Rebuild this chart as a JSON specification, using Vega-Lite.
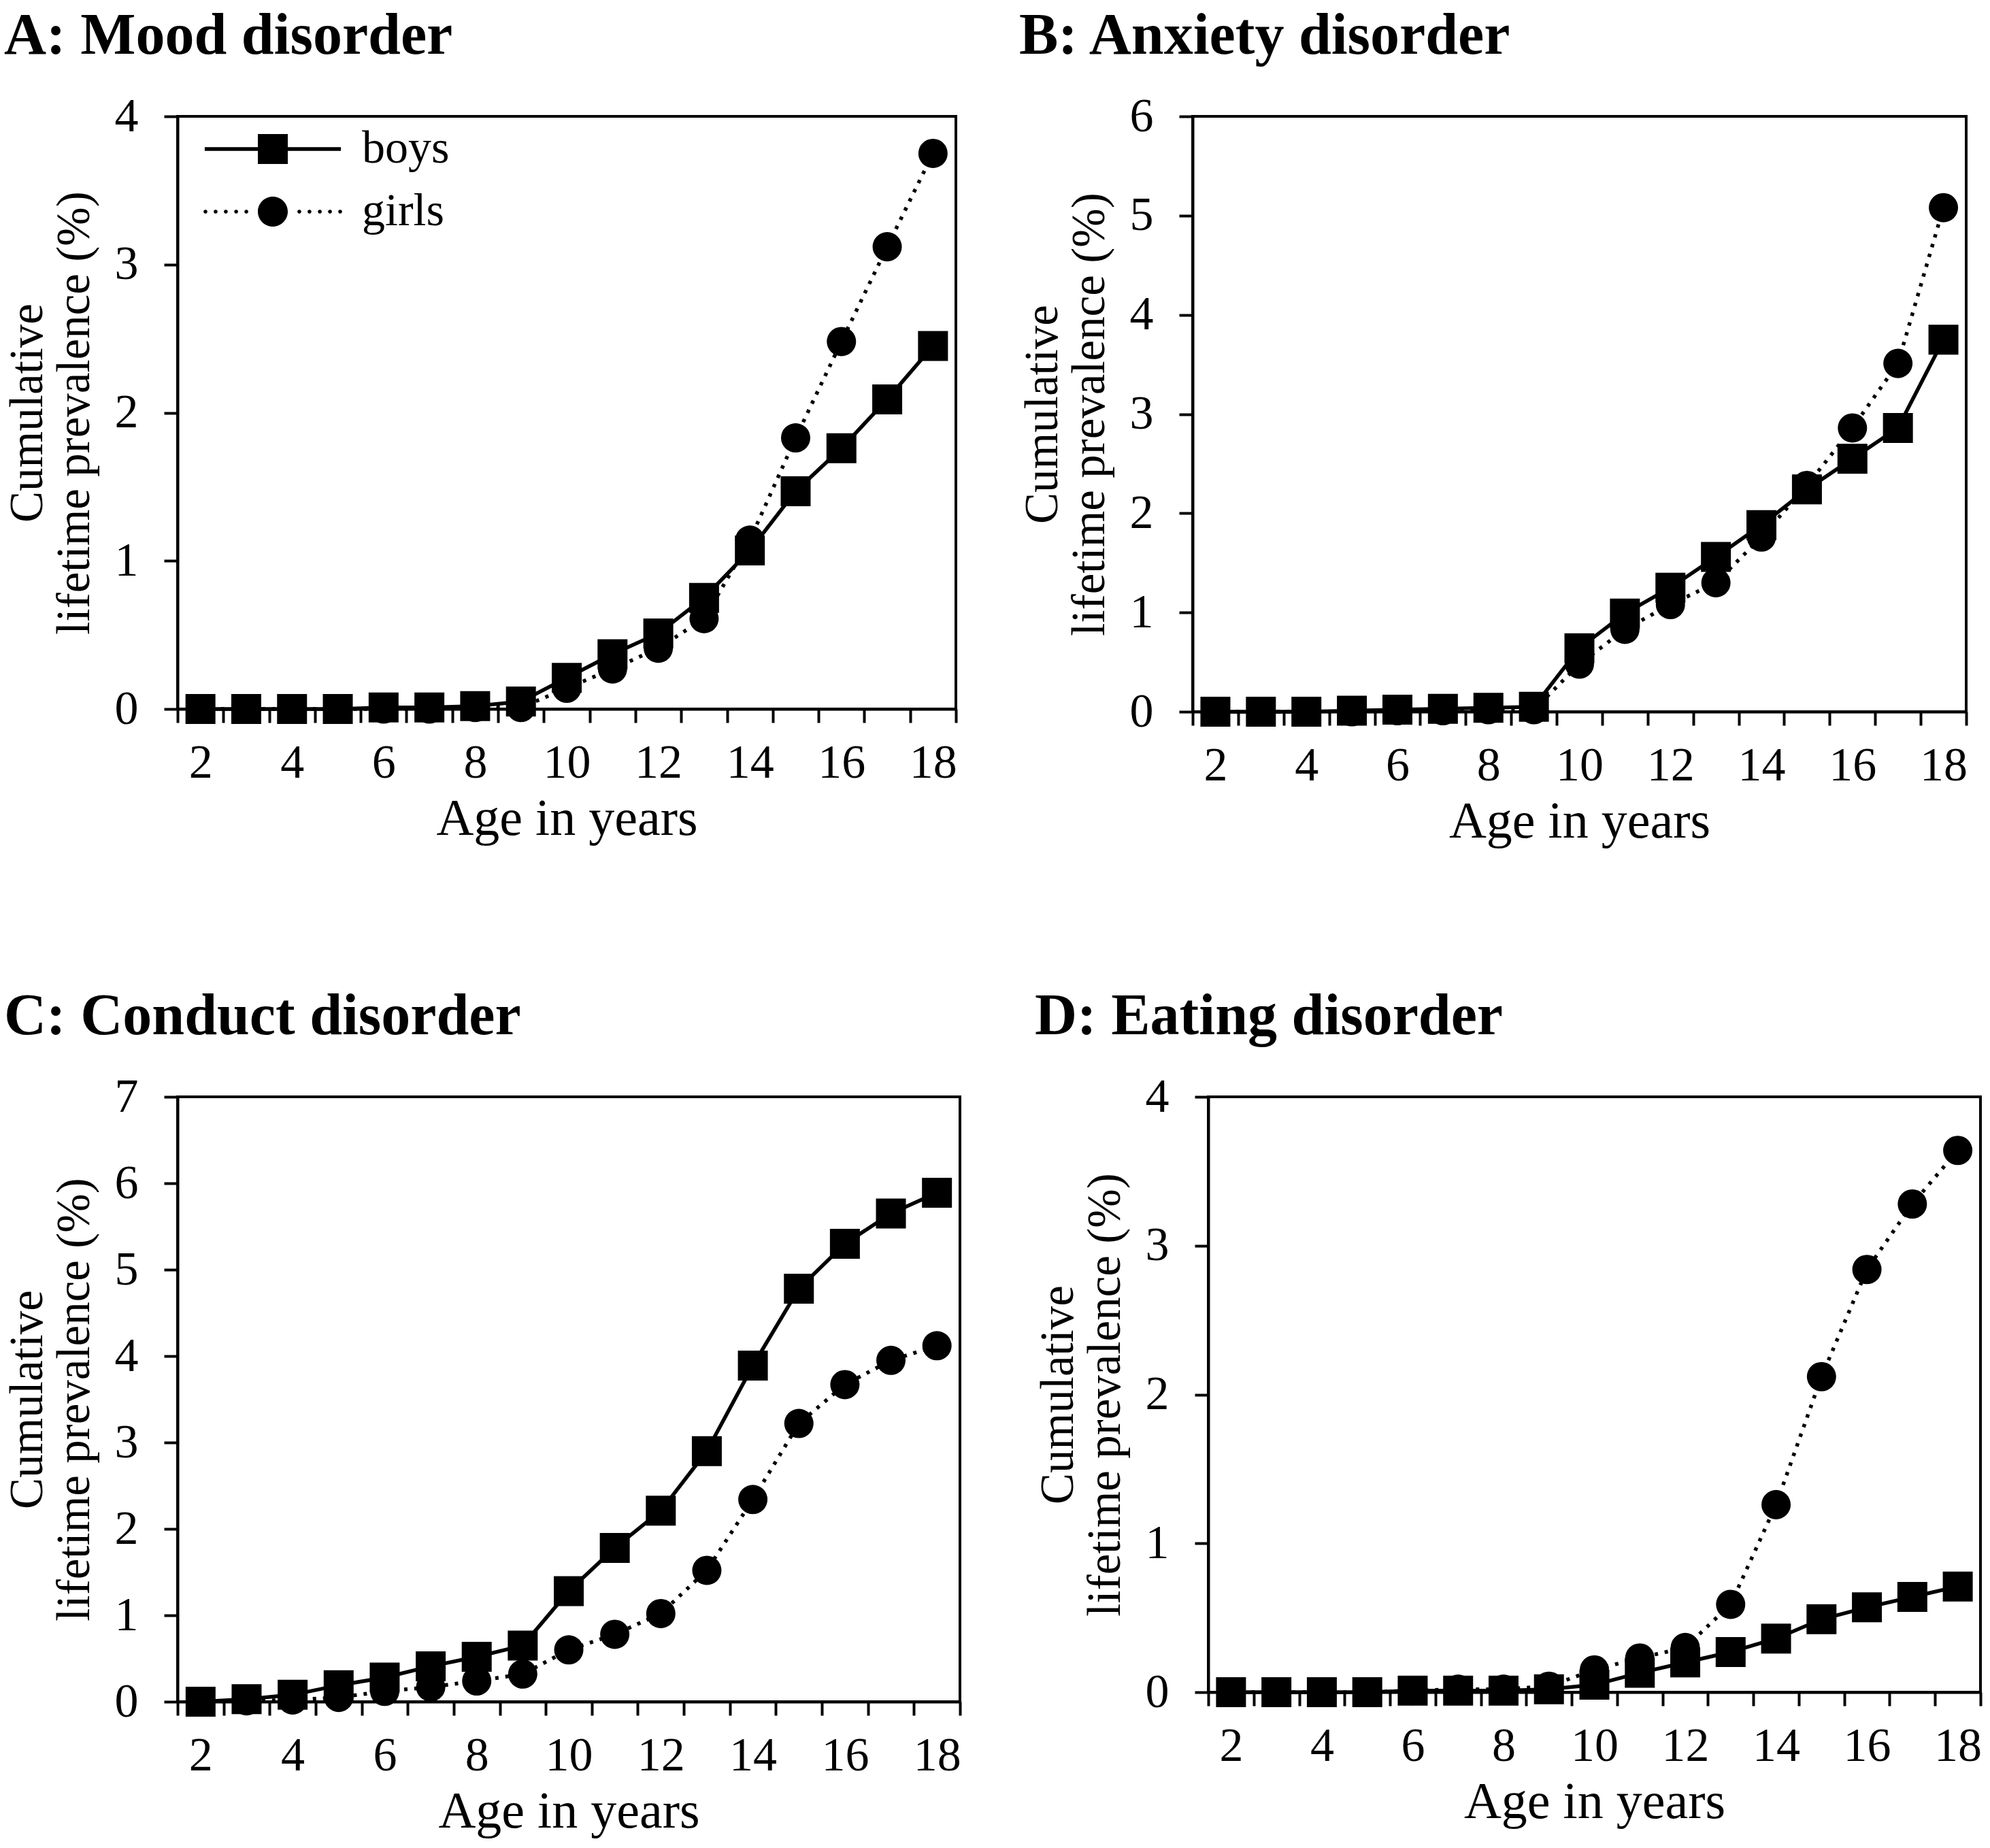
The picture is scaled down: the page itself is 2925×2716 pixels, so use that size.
{
  "$schema": "https://vega.github.io/schema/vega-lite/v6.json",
  "background": "white",
  "padding": {"top": 8, "left": 4, "right": 0, "bottom": 0},
  "data": {"values": [
    {"panel":"A","sex":"boys","age":2,"value":0},{"panel":"A","sex":"boys","age":3,"value":0},{"panel":"A","sex":"boys","age":4,"value":0},{"panel":"A","sex":"boys","age":5,"value":0},{"panel":"A","sex":"boys","age":6,"value":0.01},{"panel":"A","sex":"boys","age":7,"value":0.01},{"panel":"A","sex":"boys","age":8,"value":0.02},{"panel":"A","sex":"boys","age":9,"value":0.05},{"panel":"A","sex":"boys","age":10,"value":0.21},{"panel":"A","sex":"boys","age":11,"value":0.37},{"panel":"A","sex":"boys","age":12,"value":0.51},{"panel":"A","sex":"boys","age":13,"value":0.75},{"panel":"A","sex":"boys","age":14,"value":1.07},{"panel":"A","sex":"boys","age":15,"value":1.47},{"panel":"A","sex":"boys","age":16,"value":1.76},{"panel":"A","sex":"boys","age":17,"value":2.09},{"panel":"A","sex":"boys","age":18,"value":2.45},
    {"panel":"A","sex":"girls","age":2,"value":0},{"panel":"A","sex":"girls","age":3,"value":0},{"panel":"A","sex":"girls","age":4,"value":0},{"panel":"A","sex":"girls","age":5,"value":0},{"panel":"A","sex":"girls","age":6,"value":0},{"panel":"A","sex":"girls","age":7,"value":0},{"panel":"A","sex":"girls","age":8,"value":0.01},{"panel":"A","sex":"girls","age":9,"value":0.01},{"panel":"A","sex":"girls","age":10,"value":0.14},{"panel":"A","sex":"girls","age":11,"value":0.27},{"panel":"A","sex":"girls","age":12,"value":0.41},{"panel":"A","sex":"girls","age":13,"value":0.61},{"panel":"A","sex":"girls","age":14,"value":1.14},{"panel":"A","sex":"girls","age":15,"value":1.83},{"panel":"A","sex":"girls","age":16,"value":2.48},{"panel":"A","sex":"girls","age":17,"value":3.12},{"panel":"A","sex":"girls","age":18,"value":3.75},
    {"panel":"B","sex":"boys","age":2,"value":0},{"panel":"B","sex":"boys","age":3,"value":0},{"panel":"B","sex":"boys","age":4,"value":0},{"panel":"B","sex":"boys","age":5,"value":0.01},{"panel":"B","sex":"boys","age":6,"value":0.02},{"panel":"B","sex":"boys","age":7,"value":0.03},{"panel":"B","sex":"boys","age":8,"value":0.04},{"panel":"B","sex":"boys","age":9,"value":0.05},{"panel":"B","sex":"boys","age":10,"value":0.64},{"panel":"B","sex":"boys","age":11,"value":0.99},{"panel":"B","sex":"boys","age":12,"value":1.25},{"panel":"B","sex":"boys","age":13,"value":1.56},{"panel":"B","sex":"boys","age":14,"value":1.88},{"panel":"B","sex":"boys","age":15,"value":2.24},{"panel":"B","sex":"boys","age":16,"value":2.55},{"panel":"B","sex":"boys","age":17,"value":2.86},{"panel":"B","sex":"boys","age":18,"value":3.75},
    {"panel":"B","sex":"girls","age":2,"value":0},{"panel":"B","sex":"girls","age":3,"value":0},{"panel":"B","sex":"girls","age":4,"value":0},{"panel":"B","sex":"girls","age":5,"value":0},{"panel":"B","sex":"girls","age":6,"value":0.01},{"panel":"B","sex":"girls","age":7,"value":0.01},{"panel":"B","sex":"girls","age":8,"value":0.02},{"panel":"B","sex":"girls","age":9,"value":0.02},{"panel":"B","sex":"girls","age":10,"value":0.48},{"panel":"B","sex":"girls","age":11,"value":0.83},{"panel":"B","sex":"girls","age":12,"value":1.08},{"panel":"B","sex":"girls","age":13,"value":1.3},{"panel":"B","sex":"girls","age":14,"value":1.76},{"panel":"B","sex":"girls","age":15,"value":2.28},{"panel":"B","sex":"girls","age":16,"value":2.86},{"panel":"B","sex":"girls","age":17,"value":3.51},{"panel":"B","sex":"girls","age":18,"value":5.08},
    {"panel":"C","sex":"boys","age":2,"value":0},{"panel":"C","sex":"boys","age":3,"value":0.03},{"panel":"C","sex":"boys","age":4,"value":0.08},{"panel":"C","sex":"boys","age":5,"value":0.19},{"panel":"C","sex":"boys","age":6,"value":0.28},{"panel":"C","sex":"boys","age":7,"value":0.41},{"panel":"C","sex":"boys","age":8,"value":0.52},{"panel":"C","sex":"boys","age":9,"value":0.65},{"panel":"C","sex":"boys","age":10,"value":1.28},{"panel":"C","sex":"boys","age":11,"value":1.78},{"panel":"C","sex":"boys","age":12,"value":2.21},{"panel":"C","sex":"boys","age":13,"value":2.9},{"panel":"C","sex":"boys","age":14,"value":3.89},{"panel":"C","sex":"boys","age":15,"value":4.78},{"panel":"C","sex":"boys","age":16,"value":5.3},{"panel":"C","sex":"boys","age":17,"value":5.65},{"panel":"C","sex":"boys","age":18,"value":5.89},
    {"panel":"C","sex":"girls","age":2,"value":0},{"panel":"C","sex":"girls","age":3,"value":0.01},{"panel":"C","sex":"girls","age":4,"value":0.02},{"panel":"C","sex":"girls","age":5,"value":0.05},{"panel":"C","sex":"girls","age":6,"value":0.12},{"panel":"C","sex":"girls","age":7,"value":0.17},{"panel":"C","sex":"girls","age":8,"value":0.24},{"panel":"C","sex":"girls","age":9,"value":0.32},{"panel":"C","sex":"girls","age":10,"value":0.6},{"panel":"C","sex":"girls","age":11,"value":0.78},{"panel":"C","sex":"girls","age":12,"value":1.02},{"panel":"C","sex":"girls","age":13,"value":1.52},{"panel":"C","sex":"girls","age":14,"value":2.34},{"panel":"C","sex":"girls","age":15,"value":3.22},{"panel":"C","sex":"girls","age":16,"value":3.67},{"panel":"C","sex":"girls","age":17,"value":3.95},{"panel":"C","sex":"girls","age":18,"value":4.12},
    {"panel":"D","sex":"boys","age":2,"value":0},{"panel":"D","sex":"boys","age":3,"value":0},{"panel":"D","sex":"boys","age":4,"value":0},{"panel":"D","sex":"boys","age":5,"value":0},{"panel":"D","sex":"boys","age":6,"value":0.01},{"panel":"D","sex":"boys","age":7,"value":0.01},{"panel":"D","sex":"boys","age":8,"value":0.01},{"panel":"D","sex":"boys","age":9,"value":0.02},{"panel":"D","sex":"boys","age":10,"value":0.05},{"panel":"D","sex":"boys","age":11,"value":0.13},{"panel":"D","sex":"boys","age":12,"value":0.2},{"panel":"D","sex":"boys","age":13,"value":0.27},{"panel":"D","sex":"boys","age":14,"value":0.36},{"panel":"D","sex":"boys","age":15,"value":0.49},{"panel":"D","sex":"boys","age":16,"value":0.57},{"panel":"D","sex":"boys","age":17,"value":0.64},{"panel":"D","sex":"boys","age":18,"value":0.71},
    {"panel":"D","sex":"girls","age":2,"value":0},{"panel":"D","sex":"girls","age":3,"value":0},{"panel":"D","sex":"girls","age":4,"value":0},{"panel":"D","sex":"girls","age":5,"value":0},{"panel":"D","sex":"girls","age":6,"value":0.01},{"panel":"D","sex":"girls","age":7,"value":0.02},{"panel":"D","sex":"girls","age":8,"value":0.02},{"panel":"D","sex":"girls","age":9,"value":0.04},{"panel":"D","sex":"girls","age":10,"value":0.15},{"panel":"D","sex":"girls","age":11,"value":0.23},{"panel":"D","sex":"girls","age":12,"value":0.3},{"panel":"D","sex":"girls","age":13,"value":0.59},{"panel":"D","sex":"girls","age":14,"value":1.26},{"panel":"D","sex":"girls","age":15,"value":2.12},{"panel":"D","sex":"girls","age":16,"value":2.84},{"panel":"D","sex":"girls","age":17,"value":3.28},{"panel":"D","sex":"girls","age":18,"value":3.64}
  ]},
  "spacing": 202,
  "vconcat": [
    {"hconcat": [
      {"width": 1144, "height": 871,
       "title": {"text": "A: Mood disorder"},
       "transform": [{"filter": "datum.panel == 'A'"}],
       "encoding": {
         "x": {"field": "age", "type": "quantitative", "scale": {"domain": [1.5, 18.5], "nice": false, "zero": false},
               "axis": {"title": "Age in years", "values": [1.5,2,2.5,3.5,4,4.5,5.5,6,6.5,7.5,8,8.5,9.5,10,10.5,11.5,12,12.5,13.5,14,14.5,15.5,16,16.5,17.5,18,18.5],
                        "labelExpr": "datum.value % 2 == 0 ? format(datum.value, 'd') : ''",
                        "tickOpacity": {"condition": {"test": "datum.value % 1 == 0", "value": 0}, "value": 1}}},
         "y": {"field": "value", "type": "quantitative", "scale": {"domain": [0, 4], "nice": false},
               "axis": {"values": [0,1,2,3,4], "title": ["Cumulative", "lifetime prevalence (%)"]}}
       },
       "layer": [
         {"transform": [{"filter": "datum.sex == 'girls'"}], "mark": {"type": "line", "color": "black", "strokeWidth": 5.5, "strokeDash": [5, 10]}},
         {"transform": [{"filter": "datum.sex == 'boys'"}], "mark": {"type": "line", "color": "black", "strokeWidth": 5.5}},
         {"transform": [{"filter": "datum.sex == 'girls'"}], "mark": {"type": "point", "shape": "circle", "filled": true, "color": "black", "size": 1850, "opacity": 1}},
         {"transform": [{"filter": "datum.sex == 'boys'"}], "mark": {"type": "point", "shape": "square", "filled": true, "color": "black", "size": 1936, "opacity": 1}},
         {"transform": [{"filter": "datum.age < 0"}], "mark": {"type": "point", "filled": true, "color": "black", "opacity": 1, "size": 1936},
          "encoding": {
            "shape": {"field": "sex", "type": "nominal", "scale": {"domain": ["boys", "girls"], "range": ["M-4.55,-0.125H4.55V0.125H-4.55Z M-1,-1H1V1H-1Z", "M-1,0A1,1 0 1,0 1,0A1,1 0 1,0 -1,0Z M-4.63,0a0.13,0.13 0 1,0 0.26,0a0.13,0.13 0 1,0 -0.26,0Z M-3.95,0a0.13,0.13 0 1,0 0.26,0a0.13,0.13 0 1,0 -0.26,0Z M-3.27,0a0.13,0.13 0 1,0 0.26,0a0.13,0.13 0 1,0 -0.26,0Z M-2.58,0a0.13,0.13 0 1,0 0.26,0a0.13,0.13 0 1,0 -0.26,0Z M-1.9,0a0.13,0.13 0 1,0 0.26,0a0.13,0.13 0 1,0 -0.26,0Z M1.64,0a0.13,0.13 0 1,0 0.26,0a0.13,0.13 0 1,0 -0.26,0Z M2.32,0a0.13,0.13 0 1,0 0.26,0a0.13,0.13 0 1,0 -0.26,0Z M3.01,0a0.13,0.13 0 1,0 0.26,0a0.13,0.13 0 1,0 -0.26,0Z M3.69,0a0.13,0.13 0 1,0 0.26,0a0.13,0.13 0 1,0 -0.26,0Z M4.37,0a0.13,0.13 0 1,0 0.26,0a0.13,0.13 0 1,0 -0.26,0Z"]},
                      "legend": {"orient": "none", "legendX": 106, "legendY": 14}}
          }}
       ]},
      {"width": 1137, "height": 875,
       "title": {"text": "B: Anxiety disorder"},
       "transform": [{"filter": "datum.panel == 'B'"}],
       "encoding": {
         "x": {"field": "age", "type": "quantitative", "scale": {"domain": [1.5, 18.5], "nice": false, "zero": false},
               "axis": {"title": "Age in years", "values": [1.5,2,2.5,3.5,4,4.5,5.5,6,6.5,7.5,8,8.5,9.5,10,10.5,11.5,12,12.5,13.5,14,14.5,15.5,16,16.5,17.5,18,18.5],
                        "labelExpr": "datum.value % 2 == 0 ? format(datum.value, 'd') : ''",
                        "tickOpacity": {"condition": {"test": "datum.value % 1 == 0", "value": 0}, "value": 1}}},
         "y": {"field": "value", "type": "quantitative", "scale": {"domain": [0, 6], "nice": false},
               "axis": {"values": [0,1,2,3,4,5,6], "title": ["Cumulative", "lifetime prevalence (%)"]}}
       },
       "layer": [
         {"transform": [{"filter": "datum.sex == 'girls'"}], "mark": {"type": "line", "color": "black", "strokeWidth": 5.5, "strokeDash": [5, 10]}},
         {"transform": [{"filter": "datum.sex == 'boys'"}], "mark": {"type": "line", "color": "black", "strokeWidth": 5.5}},
         {"transform": [{"filter": "datum.sex == 'girls'"}], "mark": {"type": "point", "shape": "circle", "filled": true, "color": "black", "size": 1850, "opacity": 1}},
         {"transform": [{"filter": "datum.sex == 'boys'"}], "mark": {"type": "point", "shape": "square", "filled": true, "color": "black", "size": 1936, "opacity": 1}},
         {"transform": [{"filter": "datum.age < 0"}], "mark": {"type": "point", "filled": true, "color": "black", "opacity": 1, "size": 1936},
          "encoding": {
            "shape": {"field": "sex", "type": "nominal", "scale": {"domain": ["boys", "girls"], "range": ["M-4.55,-0.125H4.55V0.125H-4.55Z M-1,-1H1V1H-1Z", "M-1,0A1,1 0 1,0 1,0A1,1 0 1,0 -1,0Z M-4.63,0a0.13,0.13 0 1,0 0.26,0a0.13,0.13 0 1,0 -0.26,0Z M-3.95,0a0.13,0.13 0 1,0 0.26,0a0.13,0.13 0 1,0 -0.26,0Z M-3.27,0a0.13,0.13 0 1,0 0.26,0a0.13,0.13 0 1,0 -0.26,0Z M-2.58,0a0.13,0.13 0 1,0 0.26,0a0.13,0.13 0 1,0 -0.26,0Z M-1.9,0a0.13,0.13 0 1,0 0.26,0a0.13,0.13 0 1,0 -0.26,0Z M1.64,0a0.13,0.13 0 1,0 0.26,0a0.13,0.13 0 1,0 -0.26,0Z M2.32,0a0.13,0.13 0 1,0 0.26,0a0.13,0.13 0 1,0 -0.26,0Z M3.01,0a0.13,0.13 0 1,0 0.26,0a0.13,0.13 0 1,0 -0.26,0Z M3.69,0a0.13,0.13 0 1,0 0.26,0a0.13,0.13 0 1,0 -0.26,0Z M4.37,0a0.13,0.13 0 1,0 0.26,0a0.13,0.13 0 1,0 -0.26,0Z"]},
                      "legend": {"orient": "none", "legendX": 122, "legendY": 18}}
          }}
       ]}
    ], "spacing": 87},
    {"hconcat": [
      {"width": 1150, "height": 889,
       "title": {"text": "C: Conduct disorder"},
       "transform": [{"filter": "datum.panel == 'C'"}],
       "encoding": {
         "x": {"field": "age", "type": "quantitative", "scale": {"domain": [1.5, 18.5], "nice": false, "zero": false},
               "axis": {"title": "Age in years", "values": [1.5,2,2.5,3.5,4,4.5,5.5,6,6.5,7.5,8,8.5,9.5,10,10.5,11.5,12,12.5,13.5,14,14.5,15.5,16,16.5,17.5,18,18.5],
                        "labelExpr": "datum.value % 2 == 0 ? format(datum.value, 'd') : ''",
                        "tickOpacity": {"condition": {"test": "datum.value % 1 == 0", "value": 0}, "value": 1}}},
         "y": {"field": "value", "type": "quantitative", "scale": {"domain": [0, 7], "nice": false},
               "axis": {"values": [0,1,2,3,4,5,6,7], "title": ["Cumulative", "lifetime prevalence (%)"]}}
       },
       "layer": [
         {"transform": [{"filter": "datum.sex == 'girls'"}], "mark": {"type": "line", "color": "black", "strokeWidth": 5.5, "strokeDash": [5, 10]}},
         {"transform": [{"filter": "datum.sex == 'boys'"}], "mark": {"type": "line", "color": "black", "strokeWidth": 5.5}},
         {"transform": [{"filter": "datum.sex == 'girls'"}], "mark": {"type": "point", "shape": "circle", "filled": true, "color": "black", "size": 1850, "opacity": 1}},
         {"transform": [{"filter": "datum.sex == 'boys'"}], "mark": {"type": "point", "shape": "square", "filled": true, "color": "black", "size": 1936, "opacity": 1}},
         {"transform": [{"filter": "datum.age < 0"}], "mark": {"type": "point", "filled": true, "color": "black", "opacity": 1, "size": 1936},
          "encoding": {
            "shape": {"field": "sex", "type": "nominal", "scale": {"domain": ["boys", "girls"], "range": ["M-4.55,-0.125H4.55V0.125H-4.55Z M-1,-1H1V1H-1Z", "M-1,0A1,1 0 1,0 1,0A1,1 0 1,0 -1,0Z M-4.63,0a0.13,0.13 0 1,0 0.26,0a0.13,0.13 0 1,0 -0.26,0Z M-3.95,0a0.13,0.13 0 1,0 0.26,0a0.13,0.13 0 1,0 -0.26,0Z M-3.27,0a0.13,0.13 0 1,0 0.26,0a0.13,0.13 0 1,0 -0.26,0Z M-2.58,0a0.13,0.13 0 1,0 0.26,0a0.13,0.13 0 1,0 -0.26,0Z M-1.9,0a0.13,0.13 0 1,0 0.26,0a0.13,0.13 0 1,0 -0.26,0Z M1.64,0a0.13,0.13 0 1,0 0.26,0a0.13,0.13 0 1,0 -0.26,0Z M2.32,0a0.13,0.13 0 1,0 0.26,0a0.13,0.13 0 1,0 -0.26,0Z M3.01,0a0.13,0.13 0 1,0 0.26,0a0.13,0.13 0 1,0 -0.26,0Z M3.69,0a0.13,0.13 0 1,0 0.26,0a0.13,0.13 0 1,0 -0.26,0Z M4.37,0a0.13,0.13 0 1,0 0.26,0a0.13,0.13 0 1,0 -0.26,0Z"]},
                      "legend": {"orient": "none", "legendX": 114, "legendY": 22}}
          }}
       ]},
      {"width": 1135, "height": 875,
       "title": {"text": "D: Eating disorder"},
       "transform": [{"filter": "datum.panel == 'D'"}],
       "encoding": {
         "x": {"field": "age", "type": "quantitative", "scale": {"domain": [1.5, 18.5], "nice": false, "zero": false},
               "axis": {"title": "Age in years", "values": [1.5,2,2.5,3.5,4,4.5,5.5,6,6.5,7.5,8,8.5,9.5,10,10.5,11.5,12,12.5,13.5,14,14.5,15.5,16,16.5,17.5,18,18.5],
                        "labelExpr": "datum.value % 2 == 0 ? format(datum.value, 'd') : ''",
                        "tickOpacity": {"condition": {"test": "datum.value % 1 == 0", "value": 0}, "value": 1}}},
         "y": {"field": "value", "type": "quantitative", "scale": {"domain": [0, 4], "nice": false},
               "axis": {"values": [0,1,2,3,4], "title": ["Cumulative", "lifetime prevalence (%)"]}}
       },
       "layer": [
         {"transform": [{"filter": "datum.sex == 'girls'"}], "mark": {"type": "line", "color": "black", "strokeWidth": 5.5, "strokeDash": [5, 10]}},
         {"transform": [{"filter": "datum.sex == 'boys'"}], "mark": {"type": "line", "color": "black", "strokeWidth": 5.5}},
         {"transform": [{"filter": "datum.sex == 'girls'"}], "mark": {"type": "point", "shape": "circle", "filled": true, "color": "black", "size": 1850, "opacity": 1}},
         {"transform": [{"filter": "datum.sex == 'boys'"}], "mark": {"type": "point", "shape": "square", "filled": true, "color": "black", "size": 1936, "opacity": 1}},
         {"transform": [{"filter": "datum.age < 0"}], "mark": {"type": "point", "filled": true, "color": "black", "opacity": 1, "size": 1936},
          "encoding": {
            "shape": {"field": "sex", "type": "nominal", "scale": {"domain": ["boys", "girls"], "range": ["M-4.55,-0.125H4.55V0.125H-4.55Z M-1,-1H1V1H-1Z", "M-1,0A1,1 0 1,0 1,0A1,1 0 1,0 -1,0Z M-4.63,0a0.13,0.13 0 1,0 0.26,0a0.13,0.13 0 1,0 -0.26,0Z M-3.95,0a0.13,0.13 0 1,0 0.26,0a0.13,0.13 0 1,0 -0.26,0Z M-3.27,0a0.13,0.13 0 1,0 0.26,0a0.13,0.13 0 1,0 -0.26,0Z M-2.58,0a0.13,0.13 0 1,0 0.26,0a0.13,0.13 0 1,0 -0.26,0Z M-1.9,0a0.13,0.13 0 1,0 0.26,0a0.13,0.13 0 1,0 -0.26,0Z M1.64,0a0.13,0.13 0 1,0 0.26,0a0.13,0.13 0 1,0 -0.26,0Z M2.32,0a0.13,0.13 0 1,0 0.26,0a0.13,0.13 0 1,0 -0.26,0Z M3.01,0a0.13,0.13 0 1,0 0.26,0a0.13,0.13 0 1,0 -0.26,0Z M3.69,0a0.13,0.13 0 1,0 0.26,0a0.13,0.13 0 1,0 -0.26,0Z M4.37,0a0.13,0.13 0 1,0 0.26,0a0.13,0.13 0 1,0 -0.26,0Z"]},
                      "legend": {"orient": "none", "legendX": 114, "legendY": 20}}
          }}
       ]}
    ], "spacing": 104}
  ],
  "config": {
    "view": {"stroke": "black", "strokeWidth": 4},
    "title": {"font": "Liberation Serif", "fontSize": 86, "fontWeight": "bold", "color": "black", "anchor": "start", "baseline": "alphabetic", "offset": 39},
    "axis": {"grid": false, "domainColor": "black", "domainWidth": 4, "tickColor": "black", "tickWidth": 4, "tickSize": 20,
             "labelFont": "Liberation Serif", "labelFontSize": 70, "labelColor": "black", "labelOverlap": false, "labelFlush": false, "labelBound": false,
             "titleFont": "Liberation Serif", "titleFontWeight": "normal", "titleColor": "black"},
    "axisX": {"labelPadding": 25, "titlePadding": 10, "titleFontSize": 76},
    "axisY": {"labelPadding": 38, "titlePadding": 24, "titleFontSize": 69, "titleLineHeight": 69},
    "legend": {"title": null, "padding": 0, "symbolSize": 1936, "symbolStrokeWidth": 0, "symbolFillColor": "black", "symbolStrokeColor": "black", "symbolOpacity": 1,
               "labelFont": "Liberation Serif", "labelFontSize": 68, "labelColor": "black", "labelOffset": 97, "rowPadding": 24}
  }
}
